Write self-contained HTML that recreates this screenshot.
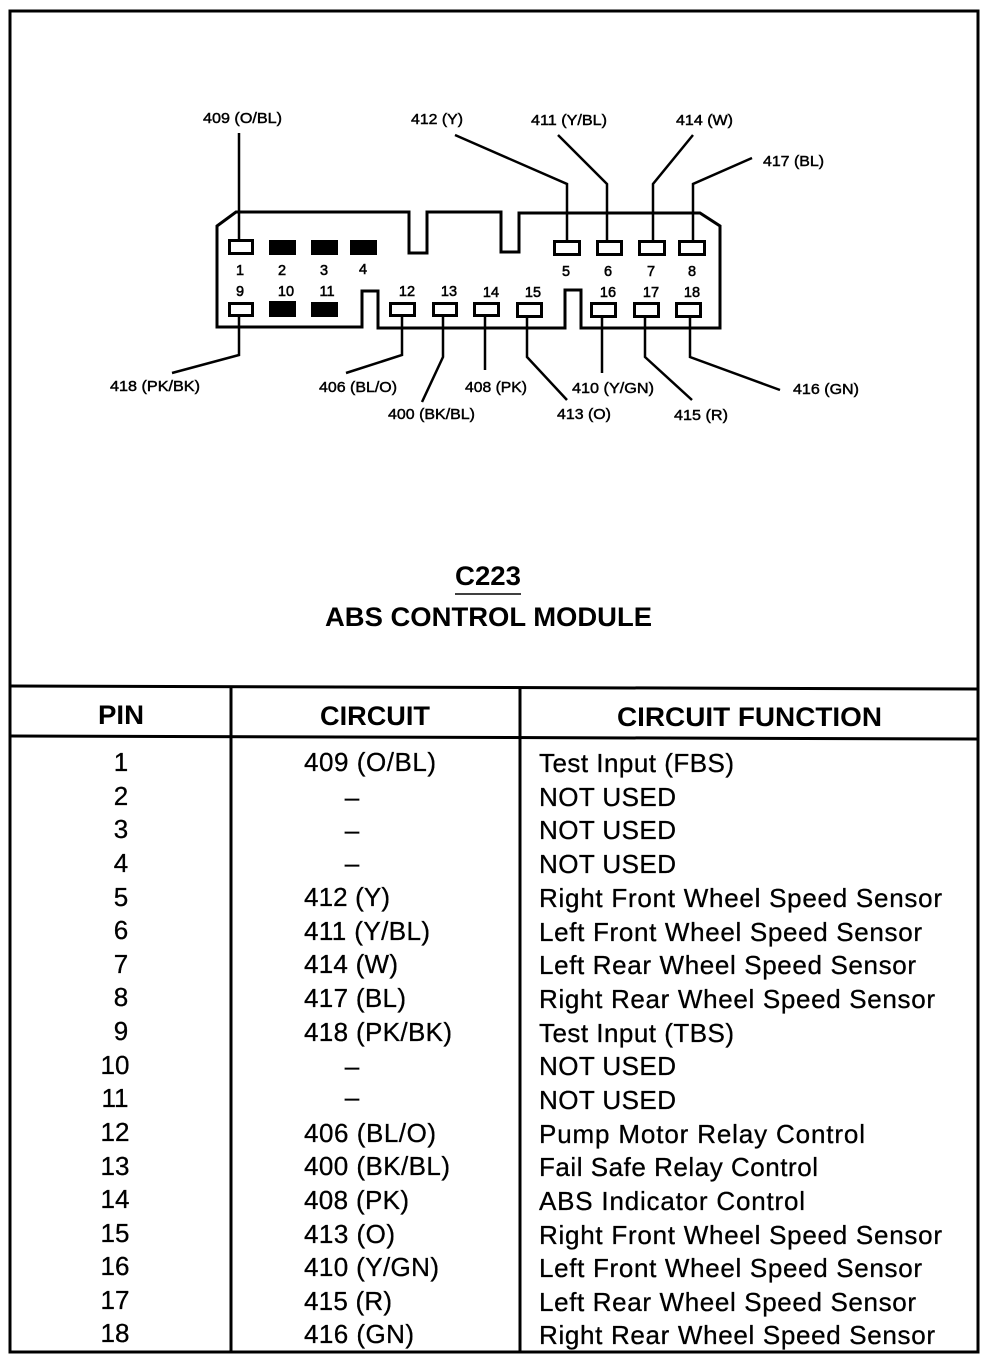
<!DOCTYPE html>
<html><head><meta charset="utf-8"><style>
html,body{margin:0;padding:0;background:#fff}
svg{display:block}
text{font-family:"Liberation Sans",sans-serif;fill:#000}
.s{font-size:14.5px;stroke:#000;stroke-width:.45px}
.n{font-size:14.5px;stroke:#000;stroke-width:.55px}
.t{font-size:26px;stroke:#000;stroke-width:.3px}
.h{font-size:27px;font-weight:700}
</style></head><body>
<svg width="992" height="1362" viewBox="0 0 992 1362" xmlns="http://www.w3.org/2000/svg">
<rect width="992" height="1362" fill="#fff"/>
<g fill="none" stroke="#000" stroke-width="3">
<rect x="10" y="11" width="968" height="1341"/>
<path d="M9 686L979 689"/>
<path d="M9 736L979 739"/>
<path d="M231 686V1352M520 688V1352"/>
</g>
<!-- connector -->
<path d="M217 226L236 212H409V253H427V212H501V252H519V213H700L720 226V328H581V290H565V328H378V291H362V327H217Z" fill="none" stroke="#000" stroke-width="3"/>
<g fill="none" stroke="#000" stroke-width="2.5">
<path d="M239 133V241"/>
<path d="M455 135L567 184V241"/>
<path d="M558 135L607 184V241"/>
<path d="M693 135L653 184V241"/>
<path d="M752 158L693 184V241"/>
<path d="M239 316V355L172 373"/>
<path d="M402 316V355L346 373"/>
<path d="M443 316V357L422 402"/>
<path d="M485 316V370"/>
<path d="M527 316V357L567 400"/>
<path d="M602 316V373"/>
<path d="M645 316V357L692 400"/>
<path d="M690 316V357L780 390"/>
</g>
<g fill="#fff" stroke="#000" stroke-width="3">
<rect x="229.5" y="240.5" width="23" height="13"/>
<rect x="554.5" y="241.5" width="25" height="13"/><rect x="597.5" y="241.5" width="24" height="13"/><rect x="639.5" y="241.5" width="25" height="13"/><rect x="679.5" y="241.5" width="25" height="13"/>
<rect x="229.5" y="303.5" width="23" height="12"/>
<rect x="390.5" y="303.5" width="24" height="12"/><rect x="433.5" y="303.5" width="23" height="12"/><rect x="474.5" y="303.5" width="24" height="12"/><rect x="517.5" y="303.5" width="24" height="13"/>
<rect x="591.5" y="303.5" width="24" height="13"/><rect x="634.5" y="303.5" width="24" height="13"/><rect x="676.5" y="303.5" width="24" height="13"/>
</g>
<g fill="#000">
<rect x="269" y="240" width="27" height="15"/><rect x="311" y="240" width="27" height="15"/><rect x="350" y="240" width="27" height="15"/>
<rect x="269" y="301" width="27" height="16"/><rect x="311" y="302" width="27" height="15"/>
</g>
<g class="s">
<text x="203" y="123" textLength="79" lengthAdjust="spacingAndGlyphs">409 (O/BL)</text><text x="411" y="124" textLength="52" lengthAdjust="spacingAndGlyphs">412 (Y)</text><text x="531" y="125" textLength="76" lengthAdjust="spacingAndGlyphs">411 (Y/BL)</text><text x="676" y="125" textLength="57" lengthAdjust="spacingAndGlyphs">414 (W)</text><text x="763" y="166" textLength="61" lengthAdjust="spacingAndGlyphs">417 (BL)</text>
<text x="110" y="391" textLength="90" lengthAdjust="spacingAndGlyphs">418 (PK/BK)</text><text x="319" y="392" textLength="78" lengthAdjust="spacingAndGlyphs">406 (BL/O)</text><text x="388" y="419" textLength="87" lengthAdjust="spacingAndGlyphs">400 (BK/BL)</text><text x="465" y="392" textLength="62" lengthAdjust="spacingAndGlyphs">408 (PK)</text><text x="557" y="419" textLength="54" lengthAdjust="spacingAndGlyphs">413 (O)</text><text x="572" y="393" textLength="82" lengthAdjust="spacingAndGlyphs">410 (Y/GN)</text><text x="674" y="420" textLength="54" lengthAdjust="spacingAndGlyphs">415 (R)</text><text x="793" y="394" textLength="66" lengthAdjust="spacingAndGlyphs">416 (GN)</text>
</g>
<g class="n" text-anchor="middle">
<text x="240" y="275">1</text><text x="282" y="275">2</text><text x="324" y="275">3</text><text x="363" y="274">4</text><text x="566" y="276">5</text><text x="608" y="276">6</text><text x="651" y="276">7</text><text x="692" y="276">8</text>
<text x="240" y="296">9</text><text x="286" y="296">10</text><text x="327" y="296">11</text><text x="407" y="296">12</text><text x="449" y="296">13</text><text x="491" y="297">14</text><text x="533" y="297">15</text><text x="608" y="297">16</text><text x="651" y="297">17</text><text x="692" y="297">18</text>
</g>
<text x="455" y="585" font-size="27" font-weight="700" textLength="66" lengthAdjust="spacingAndGlyphs">C223</text>
<path d="M455 594H521" stroke="#000" stroke-width="1.5"/>
<text x="325" y="626" font-size="27" font-weight="700" textLength="327" lengthAdjust="spacingAndGlyphs">ABS CONTROL MODULE</text>
<text class="h" x="98" y="724" textLength="46" lengthAdjust="spacingAndGlyphs">PIN</text>
<text class="h" x="320" y="725" textLength="110" lengthAdjust="spacingAndGlyphs">CIRCUIT</text>
<text class="h" x="617" y="726" textLength="265" lengthAdjust="spacingAndGlyphs">CIRCUIT FUNCTION</text>
<g class="t" text-anchor="middle">
<text x="121" y="771">1</text><text x="121" y="805">2</text><text x="121" y="838">3</text><text x="121" y="872">4</text><text x="121" y="906">5</text><text x="121" y="939">6</text><text x="121" y="973">7</text><text x="121" y="1006">8</text><text x="121" y="1040">9</text><text x="115" y="1074">10</text><text x="115" y="1107">11</text><text x="115" y="1141">12</text><text x="115" y="1175">13</text><text x="115" y="1208">14</text><text x="115" y="1242">15</text><text x="115" y="1275">16</text><text x="115" y="1309">17</text><text x="115" y="1342">18</text>
</g>
<g class="t">
<text x="304" y="771" textLength="132">409 (O/BL)</text><text x="304" y="906" textLength="86">412 (Y)</text><text x="304" y="940" textLength="126">411 (Y/BL)</text><text x="304" y="973" textLength="94">414 (W)</text><text x="304" y="1007" textLength="102">417 (BL)</text><text x="304" y="1041" textLength="148">418 (PK/BK)</text><text x="304" y="1142" textLength="132">406 (BL/O)</text><text x="304" y="1175" textLength="146">400 (BK/BL)</text><text x="304" y="1209" textLength="105">408 (PK)</text><text x="304" y="1243" textLength="91">413 (O)</text><text x="304" y="1276" textLength="135">410 (Y/GN)</text><text x="304" y="1310" textLength="88">415 (R)</text><text x="304" y="1343" textLength="110">416 (GN)</text>
</g>
<g class="t" text-anchor="middle">
<text x="352" y="806">–</text><text x="352" y="839">–</text><text x="352" y="872">–</text><text x="352" y="1075">–</text><text x="352" y="1106">–</text>
</g>
<g class="t">
<text x="539" y="772" textLength="195">Test Input (FBS)</text>
<text x="539" y="806" textLength="137">NOT USED</text>
<text x="539" y="839" textLength="137">NOT USED</text>
<text x="539" y="873" textLength="137">NOT USED</text>
<text x="539" y="907" textLength="403">Right Front Wheel Speed Sensor</text>
<text x="539" y="941" textLength="383">Left Front Wheel Speed Sensor</text>
<text x="539" y="974" textLength="377">Left Rear Wheel Speed Sensor</text>
<text x="539" y="1008" textLength="396">Right Rear Wheel Speed Sensor</text>
<text x="539" y="1042" textLength="195">Test Input (TBS)</text>
<text x="539" y="1075" textLength="137">NOT USED</text>
<text x="539" y="1109" textLength="137">NOT USED</text>
<text x="539" y="1143" textLength="326">Pump Motor Relay Control</text>
<text x="539" y="1176" textLength="279">Fail Safe Relay Control</text>
<text x="539" y="1210" textLength="266">ABS Indicator Control</text>
<text x="539" y="1244" textLength="403">Right Front Wheel Speed Sensor</text>
<text x="539" y="1277" textLength="383">Left Front Wheel Speed Sensor</text>
<text x="539" y="1311" textLength="377">Left Rear Wheel Speed Sensor</text>
<text x="539" y="1344" textLength="396">Right Rear Wheel Speed Sensor</text>
</g>
</svg>
</body></html>
